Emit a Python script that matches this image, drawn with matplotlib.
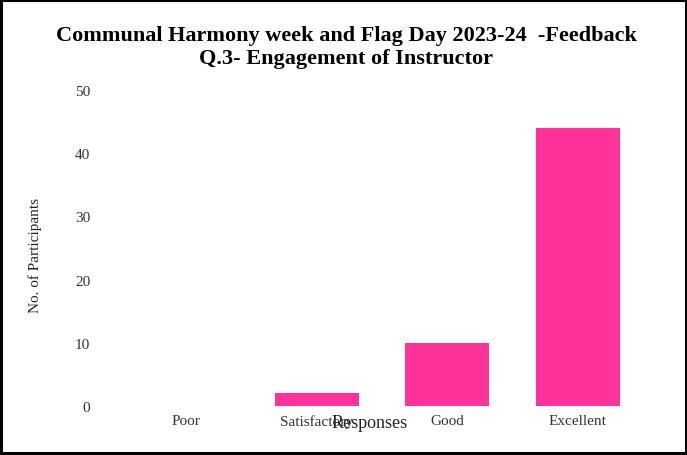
import matplotlib
matplotlib.use('Agg')
import matplotlib.pyplot as plt
from matplotlib.patches import Rectangle

# 数据
responses = ['Poor', 'Satisfactory', 'Good', 'Excellent']
participants = [0, 2, 10, 44]
yticks = [0, 10, 20, 30, 40, 50]

plt.rcParams['font.family'] = ['Liberation Serif', 'DejaVu Serif']

fig = plt.figure(figsize=(6.87, 4.56), dpi=100)
ax = fig.add_axes([0.176, 0.1075, 0.76, 0.693])

ax.bar(responses, participants, width=0.645, color='#FF3399')
ax.set_ylim(0, 50)
ax.set_xlim(-0.5, 3.5)
ax.set_yticks(yticks)
ax.tick_params(axis='y', length=0, pad=22, labelsize=11, labelcolor='#333333')
ax.tick_params(axis='x', length=0, pad=6, labelsize=11, labelcolor='#333333')
for s in ax.spines.values():
    s.set_visible(False)

ax.set_xlabel('Responses', fontsize=13, color='#222222')
ax.xaxis.set_label_coords(0.477, -0.024)
ax.set_ylabel('No. of Participants', fontsize=11, color='#222222')
ax.yaxis.set_label_coords(-0.152, 0.48)

# 标题
fig.text(0.504, 0.92, 'Communal Harmony week and Flag Day 2023-24  -Feedback',
         ha='center', va='center', fontsize=16, fontweight='bold')
fig.text(0.504, 0.87, 'Q.3- Engagement of Instructor',
         ha='center', va='center', fontsize=16, fontweight='bold')

# 外框
fig.patches.append(Rectangle((0.002, 0.004), 0.996, 0.993, transform=fig.transFigure,
                             fill=False, edgecolor='black', linewidth=2.2))

plt.savefig('out.png', dpi=100)
